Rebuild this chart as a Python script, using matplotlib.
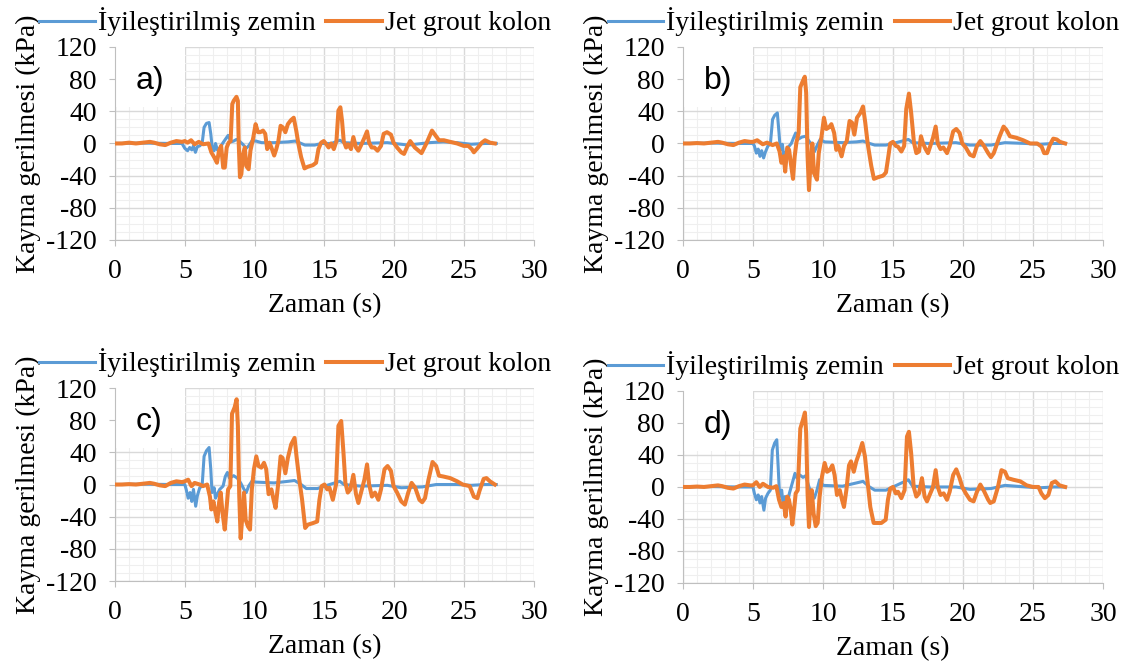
import matplotlib
matplotlib.use('Agg')
import matplotlib.pyplot as plt
from matplotlib.patches import Rectangle

plt.rcParams['font.family'] = 'Liberation Serif'
plt.rcParams['axes.unicode_minus'] = False

blue = '#5B9BD5'
orange = '#ED7D31'

# a) ---------------------------------------------------------------
t_a_jet = [0, 0.5, 1.0, 1.5, 2.0, 2.5, 2.8, 3.2, 3.6, 4.0, 4.4, 4.8, 5.0, 5.2, 5.45, 5.7, 6.0, 6.3,
           6.7, 6.9, 7.1, 7.3, 7.45, 7.6, 7.75, 7.86, 8.0, 8.14, 8.28, 8.4, 8.5, 8.7, 8.8, 8.86,
           8.95, 9.05, 9.17, 9.3, 9.4, 9.57, 9.7, 9.9, 10.07, 10.24, 10.4, 10.6, 10.76, 10.9,
           11.07, 11.24, 11.4, 11.55, 11.7, 11.86, 12.02, 12.2, 12.38, 12.6, 12.8, 12.98, 13.14,
           13.33, 13.57, 13.8, 14.17, 14.4, 14.57, 14.76, 14.95, 15.14, 15.3, 15.48, 15.67, 15.86,
           16.0, 16.14, 16.26, 16.38, 16.55, 16.7, 16.9, 17.07, 17.26, 17.43, 17.6, 17.86, 18.05,
           18.2, 18.38, 18.57, 18.8, 19.05, 19.24, 19.48, 19.76, 19.95, 20.2, 20.5, 20.7, 20.95,
           21.14, 21.47, 21.95, 22.3, 22.7, 22.95, 23.2, 23.55, 24.0, 24.5, 24.97, 25.3, 25.55,
           25.7, 26.0, 26.27, 26.5, 26.85, 27.2]
v_a_jet = [0, 0, 1, 0, 1, 2, 1, -1, -2, 1, 3, 2, 3, 1, 4, -1, 2, -1,
           0, -11, -17, -24, -9, -3, -30, -30, -5, 1, 3, 49, 53, 58, 53, 1,
           -42, -38, -13, -5, -28, -32, -9, 7, 24, 14, 14, 16, 12, -7,
           1, -7, -15, -7, 3, 22, 20, 14, 24, 29, 32, 16, -1,
           -17, -31, -29, -27, -24, -7, 1, 3, -1, -5, 0, -7, 3,
           41, 45, 28, 3, -5, -1, -7, 8, -5, -9, -3, 7, 15,
           1, -5, -5, -9, -3, 12, 14, 11, 1, -5, -11, -13, -3,
           3, -5, -12, 0, 16, 10, 4, 4, 2, 0, -3, -3, -7,
           -11, -5, 1, 4, 1, 0]
t_a_zem = [0, 2, 4, 4.8, 5.0, 5.2, 5.35, 5.5, 5.62, 5.76, 5.9, 6.07, 6.24, 6.38, 6.55, 6.74, 6.86,
           6.95, 7.1, 7.2, 7.33, 7.5, 7.74, 7.9, 8.1, 8.3, 8.5, 8.7, 8.9, 9.15, 9.4, 9.57, 9.8,
           10.1, 10.5, 11.4, 12.4, 12.9, 13.2, 13.6, 14.3, 14.8, 15.5, 16.1, 16.4, 17.6, 19.5,
           20.5, 21.0, 21.5, 22.5, 23.5, 24.5, 25.5, 26.5, 27.3]
v_a_zem = [0, 0.5, 0, 0, -6, -9, -5, -8, -3, -11, -4, -3, 0, 20, 25, 26, 12,
           -3, -9, 0, -8, -6, 1, 5, 10, 2, 3, 5, 3, -1, -6, -3, 3,
           3, 1, 1, 2, 3, 1, -2, -2, 0, 0, 4, 1, 0, 1,
           -1, -2, -1, 1, 2, 1, -1, 0, 0]

# b) ---------------------------------------------------------------
t_b_jet = [0, 0.5, 1.0, 1.5, 2.0, 2.5, 2.8, 3.2, 3.6, 4.0, 4.4, 4.8, 5.0, 5.3, 5.7, 6.0, 6.4, 6.7,
           6.9, 7.03, 7.2, 7.3, 7.45, 7.58, 7.7, 7.86, 7.98, 8.1, 8.26, 8.38, 8.57, 8.7, 8.8, 8.9,
           9.0, 9.1, 9.24, 9.36, 9.57, 9.7, 9.9, 10.07, 10.24, 10.43, 10.6, 10.8, 10.95, 11.1,
           11.33, 11.5, 11.7, 11.9, 12.07, 12.24, 12.43, 12.67, 12.86, 13.02, 13.2, 13.45, 13.64,
           13.93, 14.3, 14.5, 14.67, 14.8, 15.0, 15.2, 15.36, 15.6, 15.8, 15.95, 16.14, 16.3,
           16.5, 16.67, 16.86, 17.0, 17.15, 17.33, 17.5, 17.67, 17.86, 18.05, 18.2, 18.4, 18.6,
           18.86, 19.05, 19.3, 19.52, 19.76, 19.95, 20.2, 20.5, 20.76, 21.0, 21.24, 21.5, 21.8,
           22.0, 22.2, 22.6, 22.9, 23.1, 23.35, 23.83, 24.3, 24.8, 25.3, 25.62, 25.8, 26.0, 26.2,
           26.45, 26.7, 26.93, 27.3]
v_b_jet = [0, 0, 0.5, 0, 1, 2, 1, -1, -2, 1, 3, 2, 2, 4, -1, 1, -2, 0,
           -10, -24, -16, -35, -5, -8, -24, -44, -16, 1, 13, 70, 78, 83, 63, -16,
           -58, -28, 0, -37, -45, -12, 9, 32, 18, 20, 24, 13, -8, -3,
           -16, -3, 3, 28, 26, 11, 32, 38, 46, 26, -1, -28, -44,
           -42, -40, -36, -16, 0, 2, -3, -4, -10, -3, 43, 62, 38,
           1, -12, -10, 9, 0, -7, -12, -3, 7, 21, 0, -7, -5,
           -12, -3, 15, 18, 13, 0, -5, -14, -16, -3, 3, -3, -12,
           -17, -12, 8, 21, 17, 9, 7, 4, 0, 0, -4, -12, -12, -2,
           6, 5, 2, 0]
t_b_zem = [0, 2, 4, 5.0, 5.1, 5.24, 5.37, 5.5, 5.62, 5.76, 5.88, 6.07, 6.24, 6.4, 6.55, 6.74, 6.86,
           6.95, 7.1, 7.2, 7.33, 7.5, 7.74, 7.9, 8.05, 8.2, 8.5, 8.76, 9.0, 9.24, 9.4, 9.57, 9.8,
           10.1, 11.4, 12.4, 12.86, 13.33, 13.7, 14.5, 15.0, 16.1, 16.4, 17.6, 19.5, 20.5, 22.0,
           23.0, 24.5, 25.5, 26.5, 27.3]
v_b_zem = [0, 0.5, 0, 0, -3, -12, -7, -16, -9, -18, -11, -3, -1, 30, 35, 38, 13,
           -8, -1, -16, -12, -5, 0, 7, 13, 5, 8, 9, 3, -3, -10, -3, 5,
           2, 1, 2, 3, 0, -2, -2, 0, 5, 1, 0, 1, -2, -2,
           1, 0, -1, 0, 0]

# c) ---------------------------------------------------------------
t_c_jet = [0, 0.5, 1.0, 1.5, 2.0, 2.5, 2.8, 3.2, 3.6, 4.0, 4.4, 4.8, 5.0, 5.24, 5.48, 5.7, 6.07, 6.3,
           6.6, 6.8, 6.9, 7.05, 7.2, 7.33, 7.45, 7.57, 7.7, 7.86, 8.0, 8.1, 8.26, 8.38, 8.57, 8.71,
           8.8, 8.9, 9.0, 9.14, 9.24, 9.36, 9.52, 9.67, 9.8, 9.95, 10.12, 10.28, 10.48, 10.67,
           10.83, 11.0, 11.2, 11.36, 11.5, 11.67, 11.86, 12.0, 12.2, 12.38, 12.62, 12.86, 13.0,
           13.2, 13.4, 13.62, 13.8, 14.17, 14.48, 14.64, 14.8, 15.0, 15.2, 15.36, 15.6, 15.83,
           16.0, 16.2, 16.36, 16.5, 16.67, 16.86, 17.07, 17.26, 17.43, 17.62, 17.86, 18.05, 18.2,
           18.4, 18.62, 18.86, 19.05, 19.3, 19.52, 19.76, 19.95, 20.2, 20.5, 20.76, 21.0, 21.24,
           21.5, 21.8, 22.0, 22.2, 22.45, 22.74, 23.0, 23.2, 23.5, 24.0, 24.5, 24.9, 25.4, 25.7,
           25.95, 26.1, 26.4, 26.6, 26.85, 27.2]
v_c_jet = [0, 0, 0.5, 0, 1, 2, 1, -1, -2, 2, 4, 3, 4, 6, -2, 2, 0, -2,
           0, -15, -31, -21, -35, -46, -23, -10, -35, -56, -27, -6, -2, 88, 96, 106,
           73, -15, -67, -35, -10, -44, -52, -56, -6, 19, 35, 23, 21, 27,
           19, -12, -6, -19, -29, -2, 35, 33, 14, 33, 50, 58, 35,
           6, -19, -54, -50, -48, -46, -19, -2, 0, -6, -4, -19, 0,
           73, 79, 40, 2, -10, -6, 12, -12, -23, -10, 6, 25, 0,
           -15, -10, -19, -6, 19, 23, 17, -2, -10, -21, -25, -10, 2,
           -4, -19, -22, -17, 6, 28, 23, 11, 10, 8, 4, 0, -2, -15,
           -17, -8, 7, 8, 4, 0]
t_c_zem = [0, 2, 4, 5.0, 5.1, 5.24, 5.38, 5.5, 5.62, 5.78, 5.9, 6.07, 6.24, 6.38, 6.55, 6.74, 6.86,
           6.95, 7.1, 7.2, 7.33, 7.5, 7.74, 7.9, 8.05, 8.2, 8.5, 8.76, 9.0, 9.24, 9.4, 9.57, 9.8,
           10.1, 11.4, 12.4, 12.86, 13.33, 13.7, 14.5, 15.0, 16.1, 16.4, 17.6, 19.5, 20.5, 22.0,
           23.0, 24.5, 25.5, 26.5, 27.3]
v_c_zem = [0, 0.5, 0, 0, -6, -17, -10, -21, -6, -27, -14, -4, -2, 35, 42, 46, 19,
           -10, -4, -17, -12, -6, -2, 10, 15, 8, 11, 8, 2, -6, -10, -2, 4,
           3, 2, 4, 5, 0, -5, -5, -2, 4, 0, -2, -1, -4, -3,
           0, 0, -1, 0, 0]

# d) ---------------------------------------------------------------
t_d_jet = [0, 0.5, 1.0, 1.5, 2.0, 2.5, 2.8, 3.2, 3.6, 4.0, 4.4, 4.8, 5.0, 5.24, 5.48, 5.71, 6.07, 6.43,
           6.67, 6.86, 7.03, 7.2, 7.33, 7.45, 7.57, 7.7, 7.81, 7.93, 8.05, 8.2, 8.38, 8.57, 8.71,
           8.8, 8.9, 9.0, 9.12, 9.2, 9.33, 9.48, 9.62, 9.76, 9.93, 10.12, 10.29, 10.48, 10.67,
           10.83, 11.0, 11.2, 11.36, 11.5, 11.67, 11.86, 12.0, 12.2, 12.38, 12.62, 12.81, 13.0,
           13.17, 13.38, 13.62, 13.8, 14.17, 14.48, 14.64, 14.8, 15.0, 15.2, 15.36, 15.6, 15.83,
           16.0, 16.14, 16.3, 16.48, 16.67, 16.86, 17.07, 17.26, 17.43, 17.62, 17.86, 18.05, 18.2,
           18.4, 18.62, 18.86, 19.05, 19.3, 19.52, 19.76, 19.95, 20.2, 20.5, 20.76, 21.0, 21.24,
           21.5, 21.8, 21.95, 22.2, 22.5, 22.75, 23.0, 23.2, 23.6, 24.1, 24.55, 25.0, 25.4, 25.6,
           25.85, 26.1, 26.35, 26.6, 26.9, 27.3]
v_d_jet = [0, 0, 0.5, 0, 1, 2, 1, -1, -2, 1, 3, 2, 2, 6, 0, 4, 0, -1,
           1, -16, -25, -20, -37, -12, -16, -29, -47, -29, -8, -4, 73, 84, 93,
           67, -8, -50, -16, -4, -33, -49, -45, -12, 13, 30, 19, 21, 27,
           15, -10, -4, -16, -25, -4, 27, 32, 19, 32, 44, 55, 38,
           9, -25, -45, -45, -45, -41, -16, -2, 0, -8, -6, -14, -4,
           63, 69, 42, 0, -12, -8, 11, -12, -18, -10, 0, 21, 0,
           -10, -8, -16, -6, 15, 22, 11, 0, -8, -16, -18, -6, 3,
           -5, -16, -20, -18, 0, 21, 19, 11, 9, 7, 2, 0, 0, -8,
           -14, -10, 5, 7, 2, 0]
t_d_zem = [0, 2, 4, 5.0, 5.1, 5.24, 5.37, 5.5, 5.62, 5.78, 5.9, 6.07, 6.24, 6.38, 6.55, 6.7, 6.8,
           6.9, 7.05, 7.17, 7.29, 7.46, 7.6, 7.81, 8.0, 8.15, 8.34, 8.57, 8.76, 9.0, 9.24, 9.38,
           9.57, 9.76, 10.0, 11.4, 12.38, 12.86, 13.33, 13.7, 14.5, 15.0, 16.1, 16.4, 17.6, 19.5,
           20.5, 22.0, 23.0, 24.5, 25.5, 26.5, 27.3]
v_d_zem = [0, 0.5, 0, 0, -8, -16, -10, -20, -12, -29, -14, -8, -4, 46, 55, 59, 25,
           -12, -4, -25, -12, -20, -8, 5, 17, 11, 15, 12, 14, 0, -12, -14,
           -4, 9, 2, 1, 5, 7, 0, -4, -4, 0, 9, 1, 0, 0,
           -3, -2, 2, 0, -1, 0, 0]

panels = [
    ('a)', t_a_zem, v_a_zem, t_a_jet, v_a_jet, [0.1022, 0.6413, 0.3724, 0.2885]),
    ('b)', t_b_zem, v_b_zem, t_b_jet, v_b_jet, [0.6071, 0.6413, 0.3733, 0.2885]),
    ('c)', t_c_zem, v_c_zem, t_c_jet, v_c_jet, [0.1022, 0.1315, 0.3724, 0.2885]),
    ('d)', t_d_zem, v_d_zem, t_d_jet, v_d_jet, [0.6071, 0.1286, 0.3733, 0.2870]),
]

fig = plt.figure(figsize=(11.25, 6.69), dpi=100)

for label, tz, vz, tj, vj, pos in panels:
    ax = fig.add_axes(pos)
    ax.plot(tz, vz, color=blue, lw=2.2, label='İyileştirilmiş zemin', zorder=3)
    ax.plot(tj, vj, color=orange, lw=2.9, label='Jet grout kolon', zorder=4)

    ax.set_xlim(0, 30)
    ax.set_ylim(-120, 120)
    ax.set_xticks(range(0, 31, 5))
    ax.set_yticks(range(-120, 121, 40))
    ax.set_xticks(range(0, 31), minor=True)
    ax.set_yticks(range(-120, 121, 10), minor=True)
    ax.grid(which='major', color='#D9D9D9', lw=1.0)
    ax.grid(which='minor', color='#EFEFEF', lw=0.8)
    ax.set_axisbelow(True)
    for s in ['top', 'right']:
        ax.spines[s].set_visible(False)
    for s in ['left', 'bottom']:
        ax.spines[s].set_color('#BFBFBF')
    ax.tick_params(which='major', length=4, color='#BFBFBF', labelsize=20)
    ax.tick_params(axis='x', pad=10)
    ax.tick_params(axis='y', pad=9)
    ax.tick_params(which='minor', length=0)

    # white label box in the upper left corner
    ax.add_patch(Rectangle((0, 0.6875), 5 / 30, 0.3125, transform=ax.transAxes,
                           fc='white', ec='none', zorder=2))
    ax.text(1.5, 78, label, family='Liberation Sans', fontsize=23, va='center', zorder=5)

    ax.set_xlabel('Zaman (s)', fontsize=20, labelpad=6)
    ax.set_ylabel('Kayma gerilmesi (kPa)', fontsize=20, labelpad=4)
    ax.legend(loc='center', bbox_to_anchor=(0.43, 1.13), ncol=2, frameon=False, fontsize=20,
              handlelength=2.0, handletextpad=0.1, columnspacing=0.4, borderaxespad=0)

fig.savefig('out.png', dpi=100)
